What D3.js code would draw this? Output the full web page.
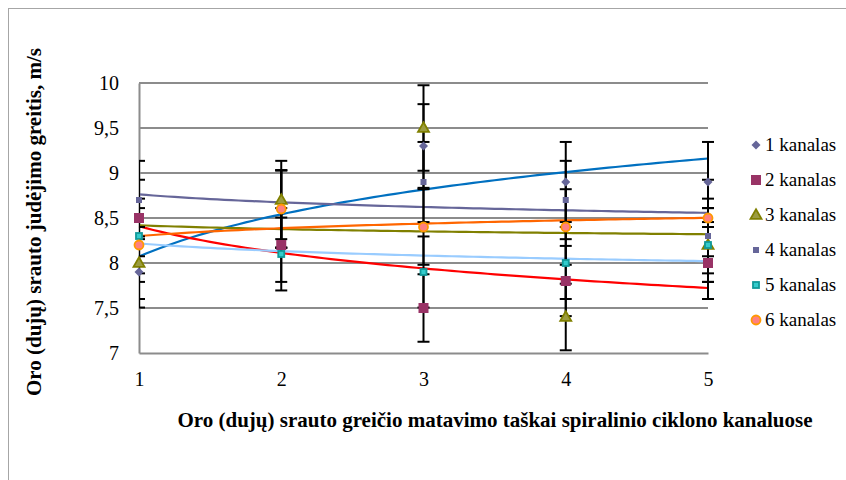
<!DOCTYPE html>
<html>
<head>
<meta charset="utf-8">
<script src="https://cdn.jsdelivr.net/npm/d3@7"></script>
<style>
  body { margin: 0; background: #fff; }
  svg { display: block; }
  svg text { font-family: "Liberation Serif", "Times New Roman", Times, serif; fill: #000; }
</style>
</head>
<body>
<div id="chart"></div>
<script>
// measurement points and channel values
const xPoints = [1, 2, 3, 4, 5];
const kanalas1 = [7.9, 8.6, 9.3, 8.9, 8.9];
const kanalas2 = [8.5, 8.2, 7.5, 7.8, 8.0];
const kanalas3 = [8.0, 8.7, 9.5, 7.4, 8.2];
const kanalas4 = [8.7, 8.6, 8.9, 8.7, 8.3];
const kanalas5 = [8.3, 8.1, 7.9, 8.0, 8.2];
const kanalas6 = [8.2, 8.6, 8.4, 8.4, 8.5];
const seriesNames = ["1 kanalas", "2 kanalas", "3 kanalas", "4 kanalas", "5 kanalas", "6 kanalas"];
const yTicks = [7, 7.5, 8, 8.5, 9, 9.5, 10];
const errorShare = 0.05; // error bars +-5 %

const yTitle = "Oro (dujų) srauto judėjimo greitis, m/s";
const xTitle = "Oro (dujų) srauto greičio matavimo taškai spiralinio ciklono kanaluose";

// marker + trendline look per series
const styles = [
  { shape: "diamond", size: 6.4, fill: "#666699", stroke: "none", trend: "#0070C0" },
  { shape: "square", size: 10, fill: "#993366", stroke: "none", trend: "#FF0000" },
  { shape: "triangle", size: 11, fill: "#9C9C40", stroke: "#808000", trend: "#808000" },
  { shape: "square", size: 6, fill: "#666699", stroke: "none", trend: "#666699" },
  { shape: "square", size: 6, fill: "#33CCCC", stroke: "#119999", trend: "#99CCFF" },
  { shape: "circle", size: 9, fill: "#FF8080", stroke: "#FF9900", trend: "#FF6600" }
];

const allSeries = [kanalas1, kanalas2, kanalas3, kanalas4, kanalas5, kanalas6];

const width = 846, height = 480;
const plot = { left: 139, right: 708, top: 83, bottom: 353 };

const svg = d3.select("#chart").append("svg")
  .attr("width", width)
  .attr("height", height);

// chart border (only left/top edge is visible)
svg.append("rect")
  .attr("x", 8.5).attr("y", 8.5)
  .attr("width", width).attr("height", height)
  .attr("fill", "none")
  .attr("stroke", "#a6a6a6")
  .attr("stroke-width", 1);

const x = d3.scaleLinear().domain([1, 5]).range([plot.left, plot.right]);
const y = d3.scaleLinear().domain([7, 10]).range([plot.bottom, plot.top]);

// gridlines
svg.append("g")
  .selectAll("line")
  .data(yTicks.slice(1))
  .join("line")
  .attr("x1", plot.left).attr("x2", plot.right)
  .attr("y1", d => y(d)).attr("y2", d => y(d))
  .attr("stroke", "#8c8c8c")
  .attr("stroke-width", 2);

// axes
const fmt = d => String(d).replace(".", ",");

const yAxis = svg.append("g")
  .attr("transform", `translate(${plot.left},0)`)
  .call(d3.axisLeft(y).tickValues(yTicks).tickFormat(fmt).tickSize(0).tickPadding(20));
yAxis.attr("font-family", null);
yAxis.select(".domain").attr("stroke", "#8c8c8c").attr("stroke-width", 2);
yAxis.selectAll("text").attr("font-size", 20);

const xAxis = svg.append("g")
  .attr("transform", `translate(0,${plot.bottom})`)
  .call(d3.axisBottom(x).tickValues(xPoints).tickFormat(d3.format("d")).tickSize(0).tickPadding(19));
xAxis.attr("font-family", null);
xAxis.select(".domain").attr("stroke", "#8c8c8c").attr("stroke-width", 2);
xAxis.selectAll("text").attr("font-size", 20);

// clip so the first error bar caps are cut at the axis
svg.append("clipPath").attr("id", "plotClip")
  .append("rect")
  .attr("x", plot.left).attr("y", 0)
  .attr("width", width - plot.left).attr("height", height);

// logarithmic trendline fit: y = a + b ln(x)
function logFit(xs, ys) {
  const L = xs.map(Math.log);
  const mL = d3.mean(L), mY = d3.mean(ys);
  const b = d3.sum(L, (l, i) => (l - mL) * (ys[i] - mY)) / d3.sum(L, l => (l - mL) ** 2);
  return { a: mY - b * mL, b };
}

const trendX = d3.range(1, 5.0001, 0.05);
const line = d3.line().x(d => x(d[0])).y(d => y(d[1]));

const trendG = svg.append("g");
allSeries.forEach((vals, i) => {
  const fit = logFit(xPoints, vals);
  trendG.append("path")
    .datum(trendX.map(t => [t, fit.a + fit.b * Math.log(t)]))
    .attr("d", line)
    .attr("fill", "none")
    .attr("stroke", styles[i].trend)
    .attr("stroke-width", 2.2);
});

// error bars
const errG = svg.append("g").attr("clip-path", "url(#plotClip)");
allSeries.forEach(vals => {
  vals.forEach((v, j) => {
    const cx = x(xPoints[j]);
    const lo = y(v * (1 - errorShare)), hi = y(v * (1 + errorShare));
    errG.append("line")
      .attr("x1", cx).attr("x2", cx).attr("y1", lo).attr("y2", hi)
      .attr("stroke", "#000").attr("stroke-width", 2);
    [lo, hi].forEach(cy => {
      errG.append("line")
        .attr("x1", cx - 6).attr("x2", cx + 6).attr("y1", cy).attr("y2", cy)
        .attr("stroke", "#000").attr("stroke-width", 2);
    });
  });
});

// marker drawing
function drawMarker(g, st, cx, cy) {
  const s = st.size;
  let m;
  if (st.shape === "circle") {
    m = g.append("circle").attr("cx", cx).attr("cy", cy).attr("r", s / 2);
  } else if (st.shape === "square") {
    m = g.append("rect").attr("x", cx - s / 2).attr("y", cy - s / 2).attr("width", s).attr("height", s);
  } else if (st.shape === "diamond") {
    m = g.append("rect").attr("x", -s / 2).attr("y", -s / 2).attr("width", s).attr("height", s)
      .attr("transform", `translate(${cx},${cy}) rotate(45)`);
  } else {
    const h = s * Math.sqrt(3) / 2;
    m = g.append("path")
      .attr("d", `M${cx},${cy - h * 0.6}L${cx + s / 2},${cy + h * 0.4}L${cx - s / 2},${cy + h * 0.4}Z`);
  }
  m.attr("fill", st.fill)
    .attr("stroke", st.stroke)
    .attr("stroke-width", st.stroke === "none" ? 0 : 1.8);
}

const markG = svg.append("g");
allSeries.forEach((vals, i) => {
  vals.forEach((v, j) => drawMarker(markG, styles[i], x(xPoints[j]), y(v)));
});

// legend
const legend = svg.append("g");
seriesNames.forEach((name, i) => {
  const ly = 145 + i * 35;
  drawMarker(legend, styles[i], 756, ly);
  legend.append("text")
    .attr("x", 765).attr("y", ly + 6)
    .attr("font-size", 19)
    .text(name);
});

// axis titles
svg.append("text")
  .attr("transform", "translate(41,222) rotate(-90)")
  .attr("text-anchor", "middle")
  .attr("font-size", 21)
  .attr("font-weight", "bold")
  .text(yTitle);

svg.append("text")
  .attr("x", 495).attr("y", 427)
  .attr("text-anchor", "middle")
  .attr("font-size", 21)
  .attr("font-weight", "bold")
  .text(xTitle);
</script>
</body>
</html>
